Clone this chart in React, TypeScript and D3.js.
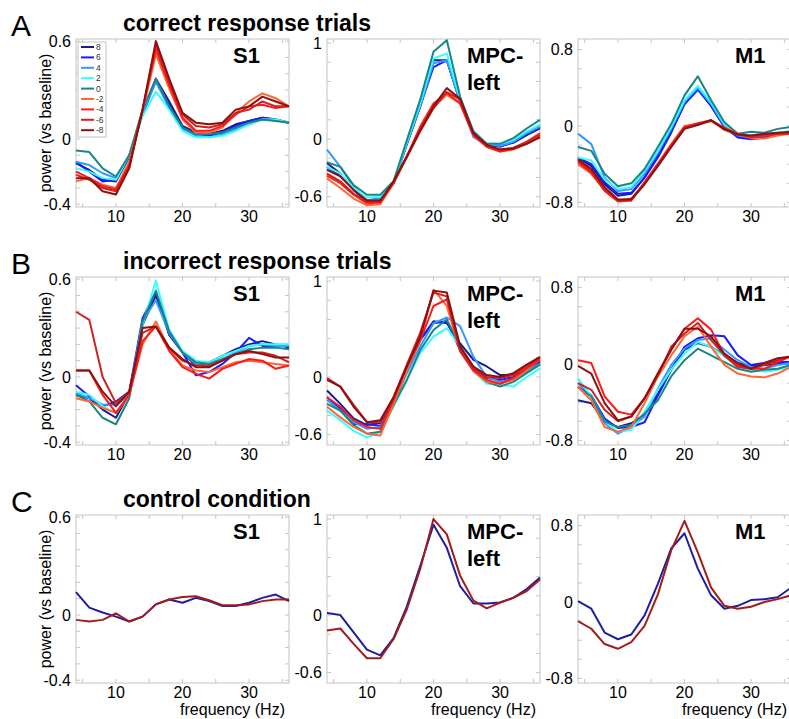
import React from "react";
import { scaleLinear, line, range } from "d3";

// frequency bins (Hz)
const freqs = [4, 6, 8, 10, 12, 14, 16, 18, 20, 22, 24, 26, 28, 30, 32, 34, 36];
const conditions = ["8", "6", "4", "2", "0", "-2", "-4", "-6", "-8"];
const rowLetters = ["A", "B", "C"];
const rowTitles = ["correct response trials", "incorrect response trials", "control condition"];
const areaNames = [["S1"], ["MPC-", "left"], ["M1"]];
const yTickLabels = [[0.6, 0, -0.4], [1, 0, -0.6], [0.8, 0, -0.8]];
const xTickLabels = [10, 20, 30];

// correct response trials, one row per condition (8 ... -8)
const correctS1 = [
  [-0.15, -0.19, -0.25, -0.26, -0.11, 0.15, 0.37, 0.23, 0.08, 0.04, 0.03, 0.05, 0.09, 0.11, 0.13, 0.12, 0.10],
  [-0.14, -0.20, -0.26, -0.25, -0.10, 0.15, 0.36, 0.21, 0.07, 0.03, 0.02, 0.04, 0.08, 0.11, 0.13, 0.12, 0.10],
  [-0.14, -0.16, -0.21, -0.24, -0.10, 0.16, 0.35, 0.19, 0.06, 0.02, 0.01, 0.03, 0.06, 0.09, 0.12, 0.12, 0.10],
  [-0.18, -0.20, -0.24, -0.25, -0.10, 0.14, 0.29, 0.18, 0.05, 0.01, 0.01, 0.02, 0.05, 0.09, 0.12, 0.12, 0.10],
  [-0.07, -0.08, -0.18, -0.23, -0.10, 0.18, 0.37, 0.20, 0.07, 0.03, 0.03, 0.04, 0.07, 0.10, 0.12, 0.11, 0.10],
  [-0.26, -0.24, -0.28, -0.30, -0.14, 0.17, 0.52, 0.31, 0.12, 0.04, 0.04, 0.07, 0.16, 0.23, 0.28, 0.25, 0.20],
  [-0.20, -0.24, -0.29, -0.31, -0.16, 0.18, 0.55, 0.33, 0.13, 0.05, 0.05, 0.08, 0.15, 0.20, 0.21, 0.19, 0.20],
  [-0.22, -0.25, -0.30, -0.32, -0.17, 0.18, 0.58, 0.35, 0.15, 0.08, 0.07, 0.09, 0.16, 0.18, 0.23, 0.20, 0.20],
  [-0.24, -0.24, -0.32, -0.34, -0.18, 0.18, 0.60, 0.37, 0.16, 0.10, 0.09, 0.10, 0.18, 0.20, 0.26, 0.23, 0.20],
];
const correctMPC = [
  [-0.25, -0.36, -0.53, -0.65, -0.64, -0.46, -0.05, 0.34, 0.82, 0.82, 0.39, 0.04, -0.06, -0.07, -0.04, 0.04, 0.11],
  [-0.29, -0.38, -0.53, -0.64, -0.62, -0.46, -0.05, 0.34, 0.75, 0.82, 0.39, 0.04, -0.06, -0.08, -0.03, 0.06, 0.13],
  [-0.11, -0.29, -0.50, -0.64, -0.62, -0.46, -0.05, 0.34, 0.79, 0.82, 0.39, 0.02, -0.06, -0.07, -0.03, 0.06, 0.13],
  [-0.29, -0.36, -0.51, -0.61, -0.60, -0.45, -0.03, 0.37, 0.84, 0.89, 0.41, 0.06, -0.05, -0.05, -0.01, 0.08, 0.15],
  [-0.24, -0.29, -0.48, -0.58, -0.58, -0.44, -0.01, 0.41, 0.91, 1.03, 0.44, 0.08, -0.05, -0.05, 0.01, 0.11, 0.20],
  [-0.41, -0.51, -0.62, -0.69, -0.68, -0.46, -0.18, 0.11, 0.34, 0.46, 0.37, 0.04, -0.08, -0.13, -0.11, -0.05, 0.02],
  [-0.38, -0.46, -0.58, -0.67, -0.66, -0.46, -0.18, 0.13, 0.37, 0.48, 0.37, 0.04, -0.08, -0.13, -0.10, -0.03, 0.06],
  [-0.36, -0.44, -0.57, -0.65, -0.65, -0.45, -0.19, 0.08, 0.32, 0.49, 0.41, 0.06, -0.07, -0.11, -0.09, -0.03, 0.04],
  [-0.32, -0.39, -0.53, -0.64, -0.64, -0.44, -0.18, 0.09, 0.34, 0.53, 0.42, 0.06, -0.06, -0.11, -0.10, -0.05, 0.02],
];
const correctM1 = [
  [-0.33, -0.42, -0.61, -0.73, -0.71, -0.54, -0.31, -0.05, 0.23, 0.38, 0.21, -0.01, -0.11, -0.13, -0.10, -0.08, -0.06],
  [-0.33, -0.40, -0.59, -0.71, -0.70, -0.54, -0.33, -0.07, 0.23, 0.39, 0.21, -0.01, -0.12, -0.14, -0.12, -0.08, -0.07],
  [-0.08, -0.19, -0.54, -0.68, -0.66, -0.50, -0.28, -0.03, 0.25, 0.40, 0.23, 0.00, -0.10, -0.12, -0.10, -0.08, -0.06],
  [-0.33, -0.36, -0.56, -0.66, -0.64, -0.47, -0.26, -0.01, 0.27, 0.42, 0.25, 0.02, -0.08, -0.10, -0.08, -0.07, -0.05],
  [-0.22, -0.26, -0.50, -0.63, -0.60, -0.45, -0.22, 0.02, 0.32, 0.52, 0.27, 0.04, -0.08, -0.06, -0.07, -0.03, -0.01],
  [-0.40, -0.50, -0.66, -0.78, -0.78, -0.59, -0.39, -0.19, 0.00, 0.02, 0.05, -0.03, -0.08, -0.13, -0.13, -0.10, -0.08],
  [-0.38, -0.49, -0.68, -0.79, -0.78, -0.59, -0.40, -0.20, -0.01, 0.03, 0.06, -0.02, -0.08, -0.12, -0.10, -0.08, -0.08],
  [-0.36, -0.47, -0.66, -0.78, -0.76, -0.60, -0.41, -0.22, -0.02, 0.02, 0.06, -0.04, -0.09, -0.11, -0.09, -0.08, -0.07],
  [-0.35, -0.45, -0.64, -0.77, -0.77, -0.61, -0.42, -0.22, -0.03, 0.01, 0.06, -0.03, -0.09, -0.10, -0.08, -0.07, -0.06],
];

// incorrect response trials
const incorrectS1 = [
  [-0.11, -0.13, -0.20, -0.25, -0.10, 0.32, 0.50, 0.26, 0.15, 0.07, 0.09, 0.13, 0.17, 0.20, 0.22, 0.20, 0.18],
  [-0.05, -0.12, -0.18, -0.15, -0.09, 0.36, 0.52, 0.26, 0.15, 0.01, 0.03, 0.08, 0.15, 0.24, 0.19, 0.19, 0.19],
  [-0.10, -0.13, -0.17, -0.17, -0.11, 0.34, 0.47, 0.27, 0.15, 0.08, 0.06, 0.11, 0.15, 0.19, 0.20, 0.19, 0.19],
  [-0.09, -0.11, -0.18, -0.22, -0.11, 0.32, 0.59, 0.29, 0.16, 0.10, 0.09, 0.13, 0.16, 0.19, 0.20, 0.20, 0.20],
  [-0.11, -0.15, -0.25, -0.29, -0.13, 0.34, 0.53, 0.28, 0.15, 0.09, 0.08, 0.11, 0.14, 0.17, 0.18, 0.18, 0.17],
  [-0.13, -0.15, -0.19, -0.22, -0.11, 0.20, 0.34, 0.17, 0.07, 0.04, 0.03, 0.06, 0.09, 0.10, 0.09, 0.08, 0.07],
  [0.04, 0.04, -0.11, -0.22, -0.11, 0.22, 0.31, 0.16, 0.06, 0.02, -0.01, 0.05, 0.08, 0.11, 0.10, 0.05, 0.07],
  [0.40, 0.35, 0.00, -0.16, -0.09, 0.27, 0.31, 0.18, 0.10, 0.07, 0.07, 0.10, 0.14, 0.15, 0.15, 0.13, 0.09],
  [0.04, 0.04, -0.09, -0.18, -0.09, 0.30, 0.31, 0.18, 0.11, 0.06, 0.06, 0.10, 0.14, 0.16, 0.14, 0.12, 0.12],
];
const incorrectMPC = [
  [-0.14, -0.28, -0.43, -0.50, -0.48, -0.24, 0.09, 0.39, 0.58, 0.56, 0.35, 0.18, 0.11, 0.02, 0.02, 0.07, 0.16],
  [-0.21, -0.33, -0.49, -0.49, -0.51, -0.28, 0.07, 0.39, 0.56, 0.58, 0.28, 0.09, -0.01, -0.03, 0.00, 0.06, 0.14],
  [-0.24, -0.35, -0.47, -0.54, -0.52, -0.28, 0.04, 0.32, 0.56, 0.62, 0.53, 0.21, 0.00, -0.05, -0.03, 0.06, 0.14],
  [-0.35, -0.45, -0.56, -0.63, -0.57, -0.31, -0.03, 0.25, 0.42, 0.51, 0.32, 0.06, -0.07, -0.08, -0.10, 0.00, 0.09],
  [-0.28, -0.35, -0.50, -0.59, -0.57, -0.29, -0.03, 0.28, 0.49, 0.60, 0.32, 0.07, -0.05, -0.10, -0.05, 0.04, 0.13],
  [-0.31, -0.42, -0.52, -0.59, -0.61, -0.28, 0.07, 0.38, 0.91, 0.74, 0.27, 0.06, -0.05, -0.07, -0.03, 0.07, 0.18],
  [-0.21, -0.31, -0.45, -0.52, -0.54, -0.24, 0.11, 0.38, 0.74, 0.81, 0.27, 0.07, -0.03, -0.07, -0.01, 0.09, 0.18],
  [-0.01, -0.10, -0.29, -0.47, -0.47, -0.21, 0.13, 0.46, 0.88, 0.84, 0.28, 0.09, 0.00, -0.01, 0.02, 0.11, 0.20],
  [-0.03, -0.10, -0.31, -0.47, -0.45, -0.21, 0.11, 0.42, 0.90, 0.88, 0.32, 0.11, 0.02, 0.00, 0.04, 0.13, 0.21],
];
const incorrectM1 = [
  [-0.38, -0.41, -0.60, -0.66, -0.62, -0.53, -0.31, -0.06, 0.15, 0.22, 0.18, 0.09, 0.01, -0.02, -0.01, 0.00, 0.01],
  [-0.24, -0.33, -0.57, -0.67, -0.66, -0.61, -0.33, -0.06, 0.18, 0.27, 0.30, 0.29, 0.09, -0.01, 0.01, 0.02, 0.02],
  [-0.20, -0.33, -0.62, -0.73, -0.66, -0.55, -0.26, -0.01, 0.16, 0.25, 0.27, 0.15, 0.04, -0.03, -0.05, -0.01, 0.01],
  [-0.15, -0.34, -0.60, -0.71, -0.69, -0.50, -0.27, -0.06, 0.11, 0.23, 0.18, 0.08, -0.03, -0.06, -0.08, -0.06, -0.03],
  [-0.24, -0.34, -0.60, -0.66, -0.64, -0.52, -0.38, -0.13, 0.04, 0.16, 0.09, 0.02, -0.05, -0.08, -0.06, -0.05, -0.01],
  [-0.24, -0.38, -0.66, -0.71, -0.66, -0.41, -0.13, 0.09, 0.29, 0.39, 0.18, -0.01, -0.10, -0.13, -0.14, -0.10, -0.03],
  [0.04, 0.01, -0.34, -0.50, -0.53, -0.36, -0.10, 0.15, 0.37, 0.48, 0.36, 0.09, -0.01, -0.05, -0.05, 0.02, 0.08],
  [-0.20, -0.27, -0.48, -0.60, -0.55, -0.36, -0.12, 0.18, 0.32, 0.43, 0.25, 0.09, -0.03, -0.05, -0.01, 0.04, 0.08],
  [-0.02, -0.10, -0.41, -0.59, -0.55, -0.36, -0.10, 0.15, 0.37, 0.37, 0.29, 0.11, 0.01, -0.05, 0.01, 0.06, 0.08],
];

// control condition: blue trace, red trace
const controlS1 = [
  [0.14, 0.045, 0.015, -0.01, -0.04, -0.01, 0.065, 0.095, 0.075, 0.105, 0.085, 0.055, 0.055, 0.075, 0.105, 0.125, 0.085],
  [-0.03, -0.04, -0.03, 0.01, -0.04, -0.01, 0.065, 0.095, 0.11, 0.115, 0.09, 0.06, 0.06, 0.065, 0.085, 0.095, 0.095],
];
const controlMPC = [
  [0.02, 0.0, -0.18, -0.36, -0.42, -0.24, 0.09, 0.51, 0.94, 0.7, 0.3, 0.12, 0.12, 0.13, 0.18, 0.27, 0.39],
  [-0.16, -0.14, -0.3, -0.45, -0.45, -0.25, 0.06, 0.48, 1.0, 0.84, 0.41, 0.15, 0.07, 0.13, 0.18, 0.25, 0.37],
];
const controlM1 = [
  [0.01, -0.07, -0.32, -0.39, -0.34, -0.14, 0.19, 0.56, 0.72, 0.35, 0.07, -0.07, -0.04, 0.02, 0.03, 0.05, 0.15],
  [-0.2, -0.28, -0.44, -0.49, -0.42, -0.25, 0.08, 0.54, 0.85, 0.52, 0.15, -0.04, -0.07, -0.05, 0.0, 0.03, 0.07],
];

const condColors = ["#1c1c8a", "#1a1aff", "#3399ff", "#33ffff", "#1a8585", "#ff6633", "#ff1a1a", "#cc2222", "#8b1010"];
const controlColors = ["#1f1f9e", "#a31c1c"];

const rows = [
  [correctS1, correctMPC, correctM1],
  [incorrectS1, incorrectMPC, incorrectM1],
  [controlS1, controlMPC, controlM1],
];

const FONT = "'Liberation Sans', Arial, Helvetica, sans-serif";
const rowTop = [39, 277, 515];
const colLeft = [76, 327, 578];
const plotW = 213;
const plotH = 168;
const yDomains = [
  [-0.417, 0.613],
  [-0.708, 1.042],
  [-0.848, 0.911],
];
const yTickSteps = [0.1, 0.2, 0.2];
const frameColor = "#c4c4c4";

function Panel({ row, col }: { row: number; col: number }) {
  const left = colLeft[col];
  const top = rowTop[row];
  const x = scaleLinear().domain([4, 36]).range([left, left + plotW]);
  const y = scaleLinear().domain(yDomains[col]).range([top + plotH, top]);
  const series = rows[row][col];
  const colors = row === 2 ? controlColors : condColors;
  const gen = line<number>()
    .x((_, i) => x(freqs[i]))
    .y((d) => y(d));

  const lo = yTickLabels[col][2];
  const hi = yTickLabels[col][0];
  const step = yTickSteps[col];
  const yMinor = range(Math.round((hi - lo) / step) + 1).map((i) => lo + i * step);
  const xMinor = [5, 10, 15, 20, 25, 30, 35];

  return (
    <g>
      <rect x={left} y={top} width={plotW} height={plotH} fill="#fff" stroke={frameColor} strokeWidth={1} />
      {yMinor.map((v) => (
        <g key={"yt" + v} stroke={frameColor}>
          <line x1={left} x2={left + 4} y1={y(v)} y2={y(v)} />
          <line x1={left + plotW - 4} x2={left + plotW} y1={y(v)} y2={y(v)} />
        </g>
      ))}
      {xMinor.map((v) => (
        <g key={"xt" + v} stroke={frameColor}>
          <line x1={x(v)} x2={x(v)} y1={top} y2={top + 4} />
          <line x1={x(v)} x2={x(v)} y1={top + plotH - 4} y2={top + plotH} />
        </g>
      ))}
      {series.map((s, i) => (
        <path key={i} d={gen(s) || ""} fill="none" stroke={colors[i]} strokeWidth={2} strokeLinejoin="round" />
      ))}
      {yTickLabels[col].map((v) => (
        <text key={"yl" + v} x={left - 5} y={y(v)} dy="0.36em" textAnchor="end" fontSize={16} fontFamily={FONT}>
          {v}
        </text>
      ))}
      {xTickLabels.map((v) => (
        <text key={"xl" + v} x={x(v)} y={top + plotH + 15} textAnchor="middle" fontSize={16} fontFamily={FONT}>
          {v}
        </text>
      ))}
      {areaNames[col].map((t, i) => (
        <text
          key={t}
          x={left + (col === 1 ? 140 : 157)}
          y={top + 24 + i * 27}
          fontSize={22}
          fontWeight="bold"
          fontFamily={FONT}
        >
          {t}
        </text>
      ))}
      {col === 0 && (
        <text
          transform={`translate(51,${top + plotH / 2}) rotate(-90)`}
          textAnchor="middle"
          fontSize={16}
          fontFamily={FONT}
        >
          power (vs baseline)
        </text>
      )}
      {row === 2 && (
        <text x={left + plotW - 4} y={715} textAnchor="end" fontSize={16} fontFamily={FONT}>
          frequency (Hz)
        </text>
      )}
      {row === 0 && col === 0 && <Legend left={left + 2} top={top + 3} />}
    </g>
  );
}

function Legend({ left, top }: { left: number; top: number }) {
  return (
    <g>
      <rect x={left} y={top} width={28} height={95} fill="#fff" stroke={frameColor} strokeWidth={1} />
      {conditions.map((c, i) => (
        <g key={c}>
          <line
            x1={left + 3}
            x2={left + 16}
            y1={top + 5 + i * 10.4}
            y2={top + 5 + i * 10.4}
            stroke={condColors[i]}
            strokeWidth={2}
          />
          <text x={left + 18} y={top + 5 + i * 10.4} dy="0.35em" fontSize={8.5} fontFamily={FONT} fill="#333">
            {c}
          </text>
        </g>
      ))}
    </g>
  );
}

export default function App() {
  return (
    <svg
      width={789}
      height={719}
      style={{ position: "absolute", left: 0, top: 0, background: "#fff" }}
    >
      {rowLetters.map((l, r) => (
        <g key={l}>
          <text x={11} y={rowTop[r] - 3} fontSize={30} fontFamily={FONT}>
            {l}
          </text>
          <text x={123} y={rowTop[r] - 8} fontSize={23} fontWeight="bold" fontFamily={FONT}>
            {rowTitles[r]}
          </text>
        </g>
      ))}
      {[0, 1, 2].map((r) => [0, 1, 2].map((c) => <Panel key={`${r}-${c}`} row={r} col={c} />))}
    </svg>
  );
}
